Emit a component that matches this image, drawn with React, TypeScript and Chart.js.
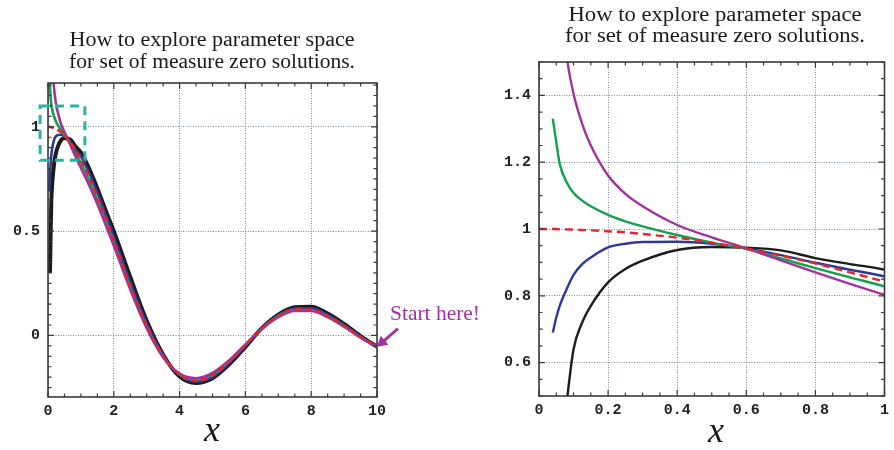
import React, { useEffect, useRef } from "react";
import { Chart, registerables } from "chart.js";
Chart.register(...registerables);

// ---------- data ----------
const xs = [0, 0.04, 0.05, 0.06, 0.08, 0.1, 0.125, 0.15, 0.2, 0.25, 0.3, 0.4, 0.5, 0.6, 0.7, 0.8, 0.9, 1.0, 1.25, 1.5, 1.75, 2, 2.5, 3, 3.5, 4, 4.5, 5, 5.5, 6, 6.5, 7, 7.5, 8, 8.5, 9, 9.5, 10];
const redY = [1.0, 1.0, 1.0, 0.999, 0.999, 0.998, 0.997, 0.996, 0.993, 0.99, 0.985, 0.974, 0.959, 0.941, 0.92, 0.897, 0.87, 0.842, 0.759, 0.665, 0.563, 0.455, 0.239, 0.047, -0.1, -0.189, -0.217, -0.192, -0.128, -0.047, 0.033, 0.094, 0.125, 0.124, 0.094, 0.046, -0.008, -0.054];
const purpleY = [null, null, null, 1.75, 1.52, 1.405, 1.315, 1.25, 1.16, 1.105, 1.068, 1.012, 0.975, 0.942, 0.906, 0.87, 0.836, 0.803, 0.72, 0.63, 0.53, 0.43, 0.22, 0.035, -0.105, -0.183, -0.205, -0.18, -0.12, -0.043, 0.031, 0.088, 0.118, 0.117, 0.088, 0.042, -0.01, -0.054];
const greenY = [null, 1.33, 1.26, 1.195, 1.14, 1.108, 1.085, 1.068, 1.042, 1.023, 1.008, 0.982, 0.959, 0.94, 0.912, 0.883, 0.855, 0.828, 0.745, 0.65, 0.55, 0.445, 0.23, 0.04, -0.102, -0.187, -0.212, -0.188, -0.125, -0.045, 0.032, 0.091, 0.122, 0.121, 0.091, 0.044, -0.009, -0.054];
const blueY = [null, 0.69, 0.735, 0.77, 0.82, 0.863, 0.895, 0.915, 0.945, 0.956, 0.961, 0.962, 0.956, 0.942, 0.922, 0.899, 0.878, 0.858, 0.78, 0.685, 0.58, 0.475, 0.255, 0.058, -0.095, -0.19, -0.222, -0.198, -0.133, -0.05, 0.034, 0.097, 0.13, 0.13, 0.099, 0.05, -0.005, -0.054];
const blackY = [null, null, null, 0.3, 0.48, 0.64, 0.72, 0.77, 0.84, 0.88, 0.905, 0.937, 0.946, 0.944, 0.936, 0.913, 0.895, 0.878, 0.8, 0.705, 0.6, 0.5, 0.28, 0.07, -0.092, -0.197, -0.228, -0.205, -0.14, -0.055, 0.035, 0.1, 0.135, 0.138, 0.105, 0.055, -0.003, -0.054];

const titleLines = ["How to explore parameter space", "for set of measure zero solutions."];
const xAxisLabel = "x";
const annotationText = "Start here!";
const startPoint = { x: 10, y: -0.054 };
const zoomBox = { xMin: -0.24, xMax: 1.12, yMin: 0.84, yMax: 1.1 };

const leftXTicks = [0, 2, 4, 6, 8, 10];
const leftYTicks = [0, 0.5, 1];
const rightXTicks = [0, 0.2, 0.4, 0.6, 0.8, 1];
const rightYTicks = [0.6, 0.8, 1, 1.2, 1.4];

// ---------- styles ----------
const RED = "#e3262b";
const PURPLE = "#a2339e";
const GREEN = "#12a04c";
const BLUE = "#2b3a9a";
const BLACK = "#1c1c1c";
const TEAL = "#2ab3a6";
const SERIF = "'Liberation Serif', 'Times New Roman', serif";
const MONO = "'Liberation Mono', 'DejaVu Sans Mono', monospace";

function pts(ys: (number | null)[]) {
  return xs.map((x, i) => ({ x, y: ys[i] })).filter((p) => p.y !== null) as { x: number; y: number }[];
}

const fmt = (v: number) => String(Number(v.toFixed(2)));

type Panel = {
  width: number;
  height: number;
  area: { left: number; right: number; top: number; bottom: number };
  xMin: number; xMax: number; yMin: number; yMax: number;
  xTicks: number[]; yTicks: number[];
  xMinor: number; yMinor: number;
  blackWidth: number; lineWidth: number; dash: number[];
  title: { cx: number; b1: number; b2: number; w1: number; w2: number };
  xTitle: { cx: number; baseline: number };
  left: boolean;
};

function drawScaledText(ctx: CanvasRenderingContext2D, text: string, cx: number, baseline: number, width: number, font: string, color: string, align: "center" | "left" = "center") {
  ctx.save();
  ctx.font = font;
  ctx.fillStyle = color;
  ctx.textBaseline = "alphabetic";
  ctx.textAlign = align;
  const m = ctx.measureText(text).width;
  ctx.translate(cx, baseline);
  ctx.scale(width / m, 1);
  ctx.fillText(text, 0, 0);
  ctx.restore();
}

function buildChart(canvas: HTMLCanvasElement, p: Panel) {
  const series = [
    { ys: redY, color: RED, dashed: true, order: 0, w: p.lineWidth },
    { ys: purpleY, color: PURPLE, dashed: false, order: 1, w: p.lineWidth },
    { ys: greenY, color: GREEN, dashed: false, order: 2, w: p.lineWidth },
    { ys: blueY, color: BLUE, dashed: false, order: 3, w: p.lineWidth },
    { ys: blackY, color: BLACK, dashed: false, order: 4, w: p.blackWidth },
  ];

  const decor = {
    id: "decor" + (p.left ? "L" : "R"),
    afterDatasetsDraw(chart: any) {
      const ctx: CanvasRenderingContext2D = chart.ctx;
      const a = chart.chartArea;
      const xs_ = chart.scales.x;
      const ys_ = chart.scales.y;
      ctx.save();
      // frame
      ctx.strokeStyle = "#3a3a3a";
      ctx.lineWidth = 1.6;
      ctx.setLineDash([]);
      ctx.strokeRect(a.left, a.top, a.right - a.left, a.bottom - a.top);
      // ticks
      ctx.lineWidth = 1.2;
      const isMajor = (v: number, list: number[]) => list.some((t) => Math.abs(t - v) < 1e-6);
      const nx = Math.round((p.xMax - p.xMin) / p.xMinor);
      for (let i = 0; i <= nx; i++) {
        const v = p.xMin + i * p.xMinor;
        const px = xs_.getPixelForValue(v);
        const len = isMajor(v, p.xTicks) ? 6 : 3.5;
        ctx.beginPath();
        ctx.moveTo(px, a.bottom); ctx.lineTo(px, a.bottom - len);
        ctx.moveTo(px, a.top); ctx.lineTo(px, a.top + len);
        ctx.stroke();
      }
      const y0 = Math.ceil(p.yMin / p.yMinor - 1e-6);
      const y1 = Math.floor(p.yMax / p.yMinor + 1e-6);
      for (let i = y0; i <= y1; i++) {
        const v = i * p.yMinor;
        const py = ys_.getPixelForValue(v);
        const len = isMajor(v, p.yTicks) ? 6 : 3.5;
        ctx.beginPath();
        ctx.moveTo(a.left, py); ctx.lineTo(a.left + len, py);
        ctx.moveTo(a.right, py); ctx.lineTo(a.right - len, py);
        ctx.stroke();
      }
      // titles
      const tf = `20px ${SERIF}`;
      drawScaledText(ctx, titleLines[0], p.title.cx, p.title.b1, p.title.w1, tf, "#1a1a1a");
      drawScaledText(ctx, titleLines[1], p.title.cx, p.title.b2, p.title.w2, tf, "#1a1a1a");
      // x axis title
      ctx.font = `italic 36px ${SERIF}`;
      ctx.fillStyle = "#1a1a1a";
      ctx.textAlign = "center";
      ctx.textBaseline = "alphabetic";
      ctx.fillText(xAxisLabel, p.xTitle.cx, p.xTitle.baseline);

      if (p.left) {
        // teal dashed zoom box
        ctx.strokeStyle = TEAL;
        ctx.lineWidth = 3;
        ctx.setLineDash([9, 6]);
        const bx0 = xs_.getPixelForValue(zoomBox.xMin);
        const bx1 = xs_.getPixelForValue(zoomBox.xMax);
        const by0 = ys_.getPixelForValue(zoomBox.yMax);
        const by1 = ys_.getPixelForValue(zoomBox.yMin);
        ctx.strokeRect(bx0, by0, bx1 - bx0, by1 - by0);
        ctx.setLineDash([]);
        // start here arrow
        const tx = xs_.getPixelForValue(startPoint.x);
        const ty = ys_.getPixelForValue(startPoint.y);
        const sx = tx + 21, sy = ty - 18;
        ctx.strokeStyle = PURPLE;
        ctx.fillStyle = PURPLE;
        ctx.lineWidth = 3;
        ctx.beginPath();
        ctx.moveTo(sx, sy);
        ctx.lineTo(tx + 6, ty - 5);
        ctx.stroke();
        const ang = Math.atan2(ty - sy, tx - sx);
        const hl = 10, hw = 6;
        ctx.beginPath();
        ctx.moveTo(tx, ty);
        ctx.lineTo(tx - hl * Math.cos(ang) + hw * Math.sin(ang), ty - hl * Math.sin(ang) - hw * Math.cos(ang));
        ctx.lineTo(tx - hl * Math.cos(ang) - hw * Math.sin(ang), ty - hl * Math.sin(ang) + hw * Math.cos(ang));
        ctx.closePath();
        ctx.fill();
        drawScaledText(ctx, annotationText, tx + 13, ty - 27, 90, `21px ${SERIF}`, PURPLE, "left");
      }
      ctx.restore();
    },
  };

  const gridOpts = { color: "#7f8d9b", lineWidth: 1, drawTicks: false };
  const tickFont = { family: MONO, size: 15, weight: "bold" };
  return new Chart(canvas, {
    type: "line",
    data: {
      datasets: series.map((s) => ({
        data: pts(s.ys),
        borderColor: s.color,
        backgroundColor: s.color,
        borderWidth: s.w,
        borderDash: s.dashed ? p.dash : [],
        pointRadius: 0,
        fill: false,
        cubicInterpolationMode: "monotone",
        order: s.order,
      })),
    },
    options: {
      animation: false,
      responsive: false,
      devicePixelRatio: 1,
      events: [],
      layout: {
        padding: { left: 0, top: p.area.top, right: p.width - p.area.right, bottom: 0 },
      },
      plugins: { legend: { display: false }, tooltip: { enabled: false }, title: { display: false } },
      scales: {
        x: {
          type: "linear",
          min: p.xMin,
          max: p.xMax,
          afterBuildTicks: (s: any) => { s.ticks = p.xTicks.map((v) => ({ value: v })); },
          afterFit: (s: any) => { s.height = p.height - p.area.bottom; },
          ticks: { callback: (v: any) => fmt(Number(v)), font: tickFont, color: "#222", padding: 5, maxRotation: 0, autoSkip: false },
          grid: gridOpts,
          border: { display: false, dash: [1, 1.5] },
        },
        y: {
          type: "linear",
          min: p.yMin,
          max: p.yMax,
          afterBuildTicks: (s: any) => { s.ticks = p.yTicks.map((v) => ({ value: v })); },
          afterFit: (s: any) => { s.width = p.area.left; },
          ticks: { callback: (v: any) => fmt(Number(v)), font: tickFont, color: "#222", padding: 8 },
          grid: gridOpts,
          border: { display: false, dash: [1, 1.5] },
        },
      },
    } as any,
    plugins: [decor],
  });
}

const leftPanel: Panel = {
  width: 490, height: 450,
  area: { left: 48, right: 377, top: 83, bottom: 397 },
  xMin: 0, xMax: 10, yMin: -0.295, yMax: 1.21,
  xTicks: leftXTicks, yTicks: leftYTicks,
  xMinor: 0.5, yMinor: 0.05,
  blackWidth: 4, lineWidth: 2.6, dash: [6, 4],
  title: { cx: 212, b1: 46, b2: 68, w1: 285, w2: 286 },
  xTitle: { cx: 212, baseline: 441 },
  left: true,
};

const rightPanel: Panel = {
  width: 404, height: 450,
  area: { left: 49, right: 400, top: 62, bottom: 396 },
  xMin: 0, xMax: 1, yMin: 0.5, yMax: 1.5,
  xTicks: rightXTicks, yTicks: rightYTicks,
  xMinor: 0.05, yMinor: 0.05,
  blackWidth: 2.4, lineWidth: 2.4, dash: [8, 5],
  title: { cx: 225, b1: 21, b2: 42, w1: 293, w2: 300 },
  xTitle: { cx: 226, baseline: 442 },
  left: false,
};

export default function App() {
  const leftRef = useRef<HTMLCanvasElement>(null);
  const rightRef = useRef<HTMLCanvasElement>(null);
  useEffect(() => {
    const c1 = buildChart(leftRef.current!, leftPanel);
    const c2 = buildChart(rightRef.current!, rightPanel);
    return () => { c1.destroy(); c2.destroy(); };
  }, []);
  return (
    <div style={{ position: "absolute", left: 0, top: 0, width: 894, height: 450, background: "#fff", overflow: "hidden" }}>
      <canvas ref={leftRef} width={490} height={450} style={{ position: "absolute", left: 0, top: 0, width: 490, height: 450 }} />
      <canvas ref={rightRef} width={404} height={450} style={{ position: "absolute", left: 490, top: 0, width: 404, height: 450 }} />
    </div>
  );
}
